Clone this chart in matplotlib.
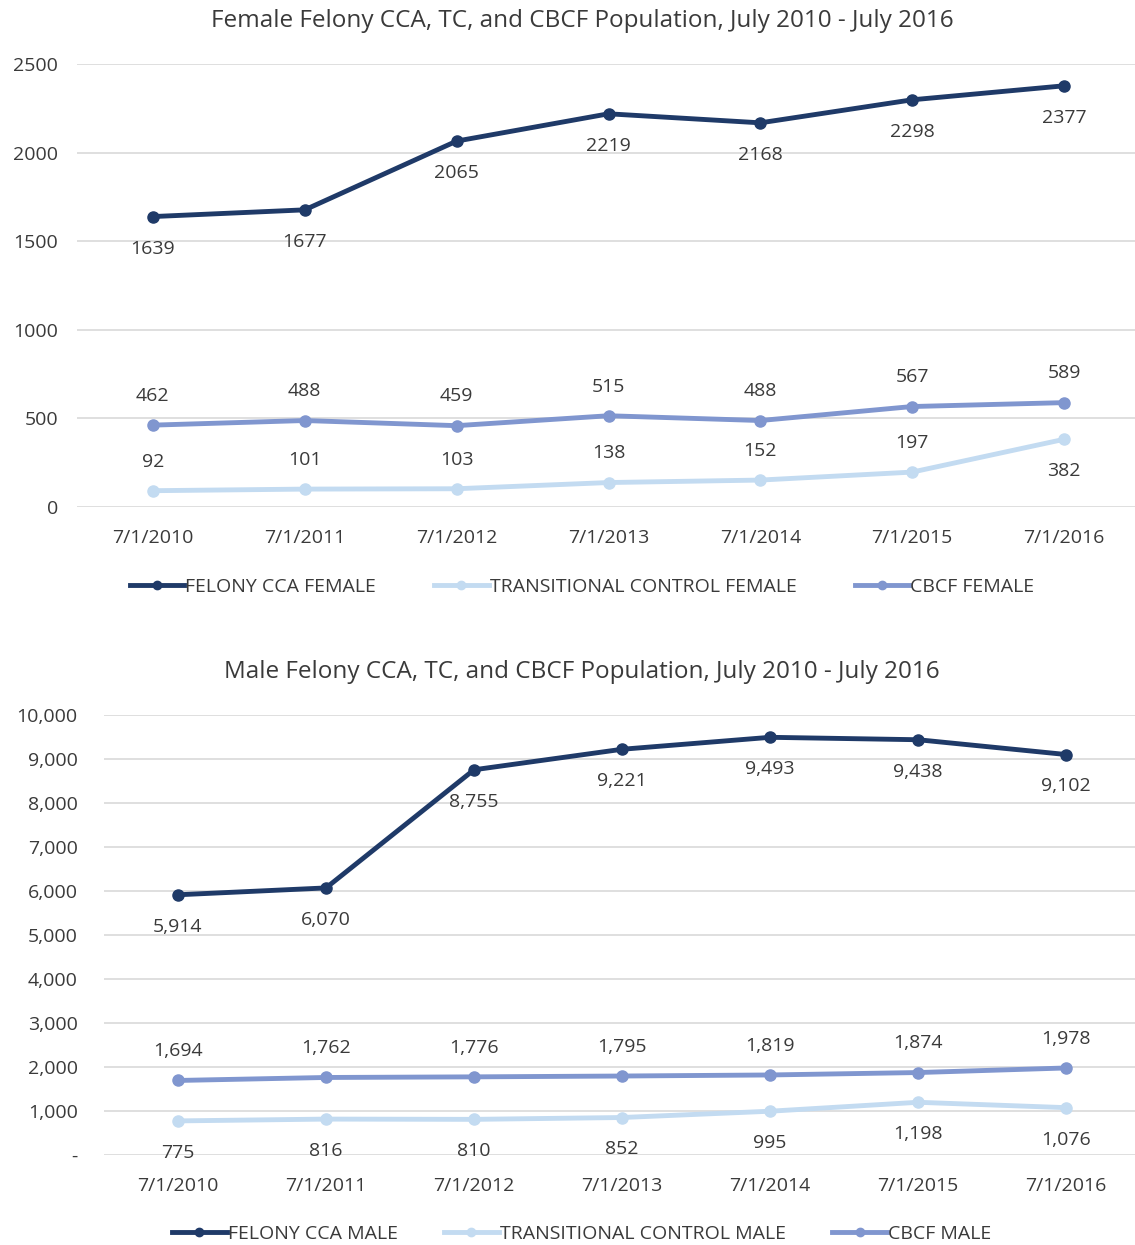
import matplotlib.pyplot as plt
from matplotlib.ticker import FuncFormatter

plt.rcParams['font.family'] = ['Open Sans', 'DejaVu Sans']

dates = ['7/1/2010', '7/1/2011', '7/1/2012', '7/1/2013', '7/1/2014', '7/1/2015', '7/1/2016']

# female
felony_f = [1639, 1677, 2065, 2219, 2168, 2298, 2377]
tc_f = [92, 101, 103, 138, 152, 197, 382]
cbcf_f = [462, 488, 459, 515, 488, 567, 589]

# male
felony_m = [5914, 6070, 8755, 9221, 9493, 9438, 9102]
tc_m = [775, 816, 810, 852, 995, 1198, 1076]
cbcf_m = [1694, 1762, 1776, 1795, 1819, 1874, 1978]

c_dark = '#1f3a68'
c_light = '#c3dbf1'
c_mid = '#8096cf'
txt = '#3a3a3a'
grid = '#d9d9d9'

fig = plt.figure(figsize=(11.35, 12.45), dpi=100)
ax1 = fig.add_axes([77/1135, 1-507/1245, 1063/1135, 443/1245])
ax2 = fig.add_axes([104/1135, 1-1155/1245, 1036/1135, 440/1245])


def draw(ax, series, title, ymax, step, fmt_tick, fmt_lbl, ypad, colsp, cx):
    x = list(range(len(dates)))
    for vals, col, lab, pos in series:
        ax.plot(x, vals, color=col, lw=3.5, marker='o', ms=8, label=lab, zorder=3)
        for i, v in enumerate(vals):
            off = 21 if pos[i] == 'a' else -23
            ax.annotate(fmt_lbl(v), (i, v), xytext=(0, off), textcoords='offset points',
                        ha='center', va='center', fontsize=14, color=txt)
    ax.set_xlim(-0.5, len(dates) - 0.5)
    ax.set_ylim(0, ymax)
    ax.set_yticks(range(0, ymax + 1, step))
    ax.yaxis.set_major_formatter(FuncFormatter(fmt_tick))
    ax.set_xticks(x)
    ax.set_xticklabels(dates)
    ax.grid(axis='y', color=grid, lw=1.2)
    ax.set_axisbelow(True)
    for s in ax.spines.values():
        s.set_visible(False)
    ax.tick_params(length=0, labelsize=14, colors=txt, pad=16)
    ax.tick_params(axis='y', pad=ypad)
    ax.set_title(title, fontsize=17.5, color=txt, pad=27, x=cx)
    ax.legend(loc='upper center', bbox_to_anchor=(cx, -0.12), ncol=3, frameon=False,
              fontsize=14, labelcolor=txt, handlelength=2.8, columnspacing=colsp,
              handletextpad=0.05, markerscale=0.75)


draw(ax1, [(felony_f, c_dark, 'FELONY CCA FEMALE', 'bbbbbbb'),
           (tc_f, c_light, 'TRANSITIONAL CONTROL FEMALE', 'aaaaaab'),
           (cbcf_f, c_mid, 'CBCF FEMALE', 'aaaaaaa')],
     'Female Felony CCA, TC, and CBCF Population, July 2010 - July 2016',
     2500, 500, lambda v, p: f'{int(v)}', lambda v: f'{v}', 13.5, 3.0, 0.475)

draw(ax2, [(felony_m, c_dark, 'FELONY CCA MALE', 'bbbbbbb'),
           (tc_m, c_light, 'TRANSITIONAL CONTROL MALE', 'bbbbbbb'),
           (cbcf_m, c_mid, 'CBCF MALE', 'aaaaaaa')],
     'Male Felony CCA, TC, and CBCF Population, July 2010 - July 2016',
     10000, 1000, lambda v, p: '-' if v == 0 else f'{int(v):,}', lambda v: f'{v:,}', 19, 2.4, 0.461)

fig.savefig('out.png', dpi=100)
